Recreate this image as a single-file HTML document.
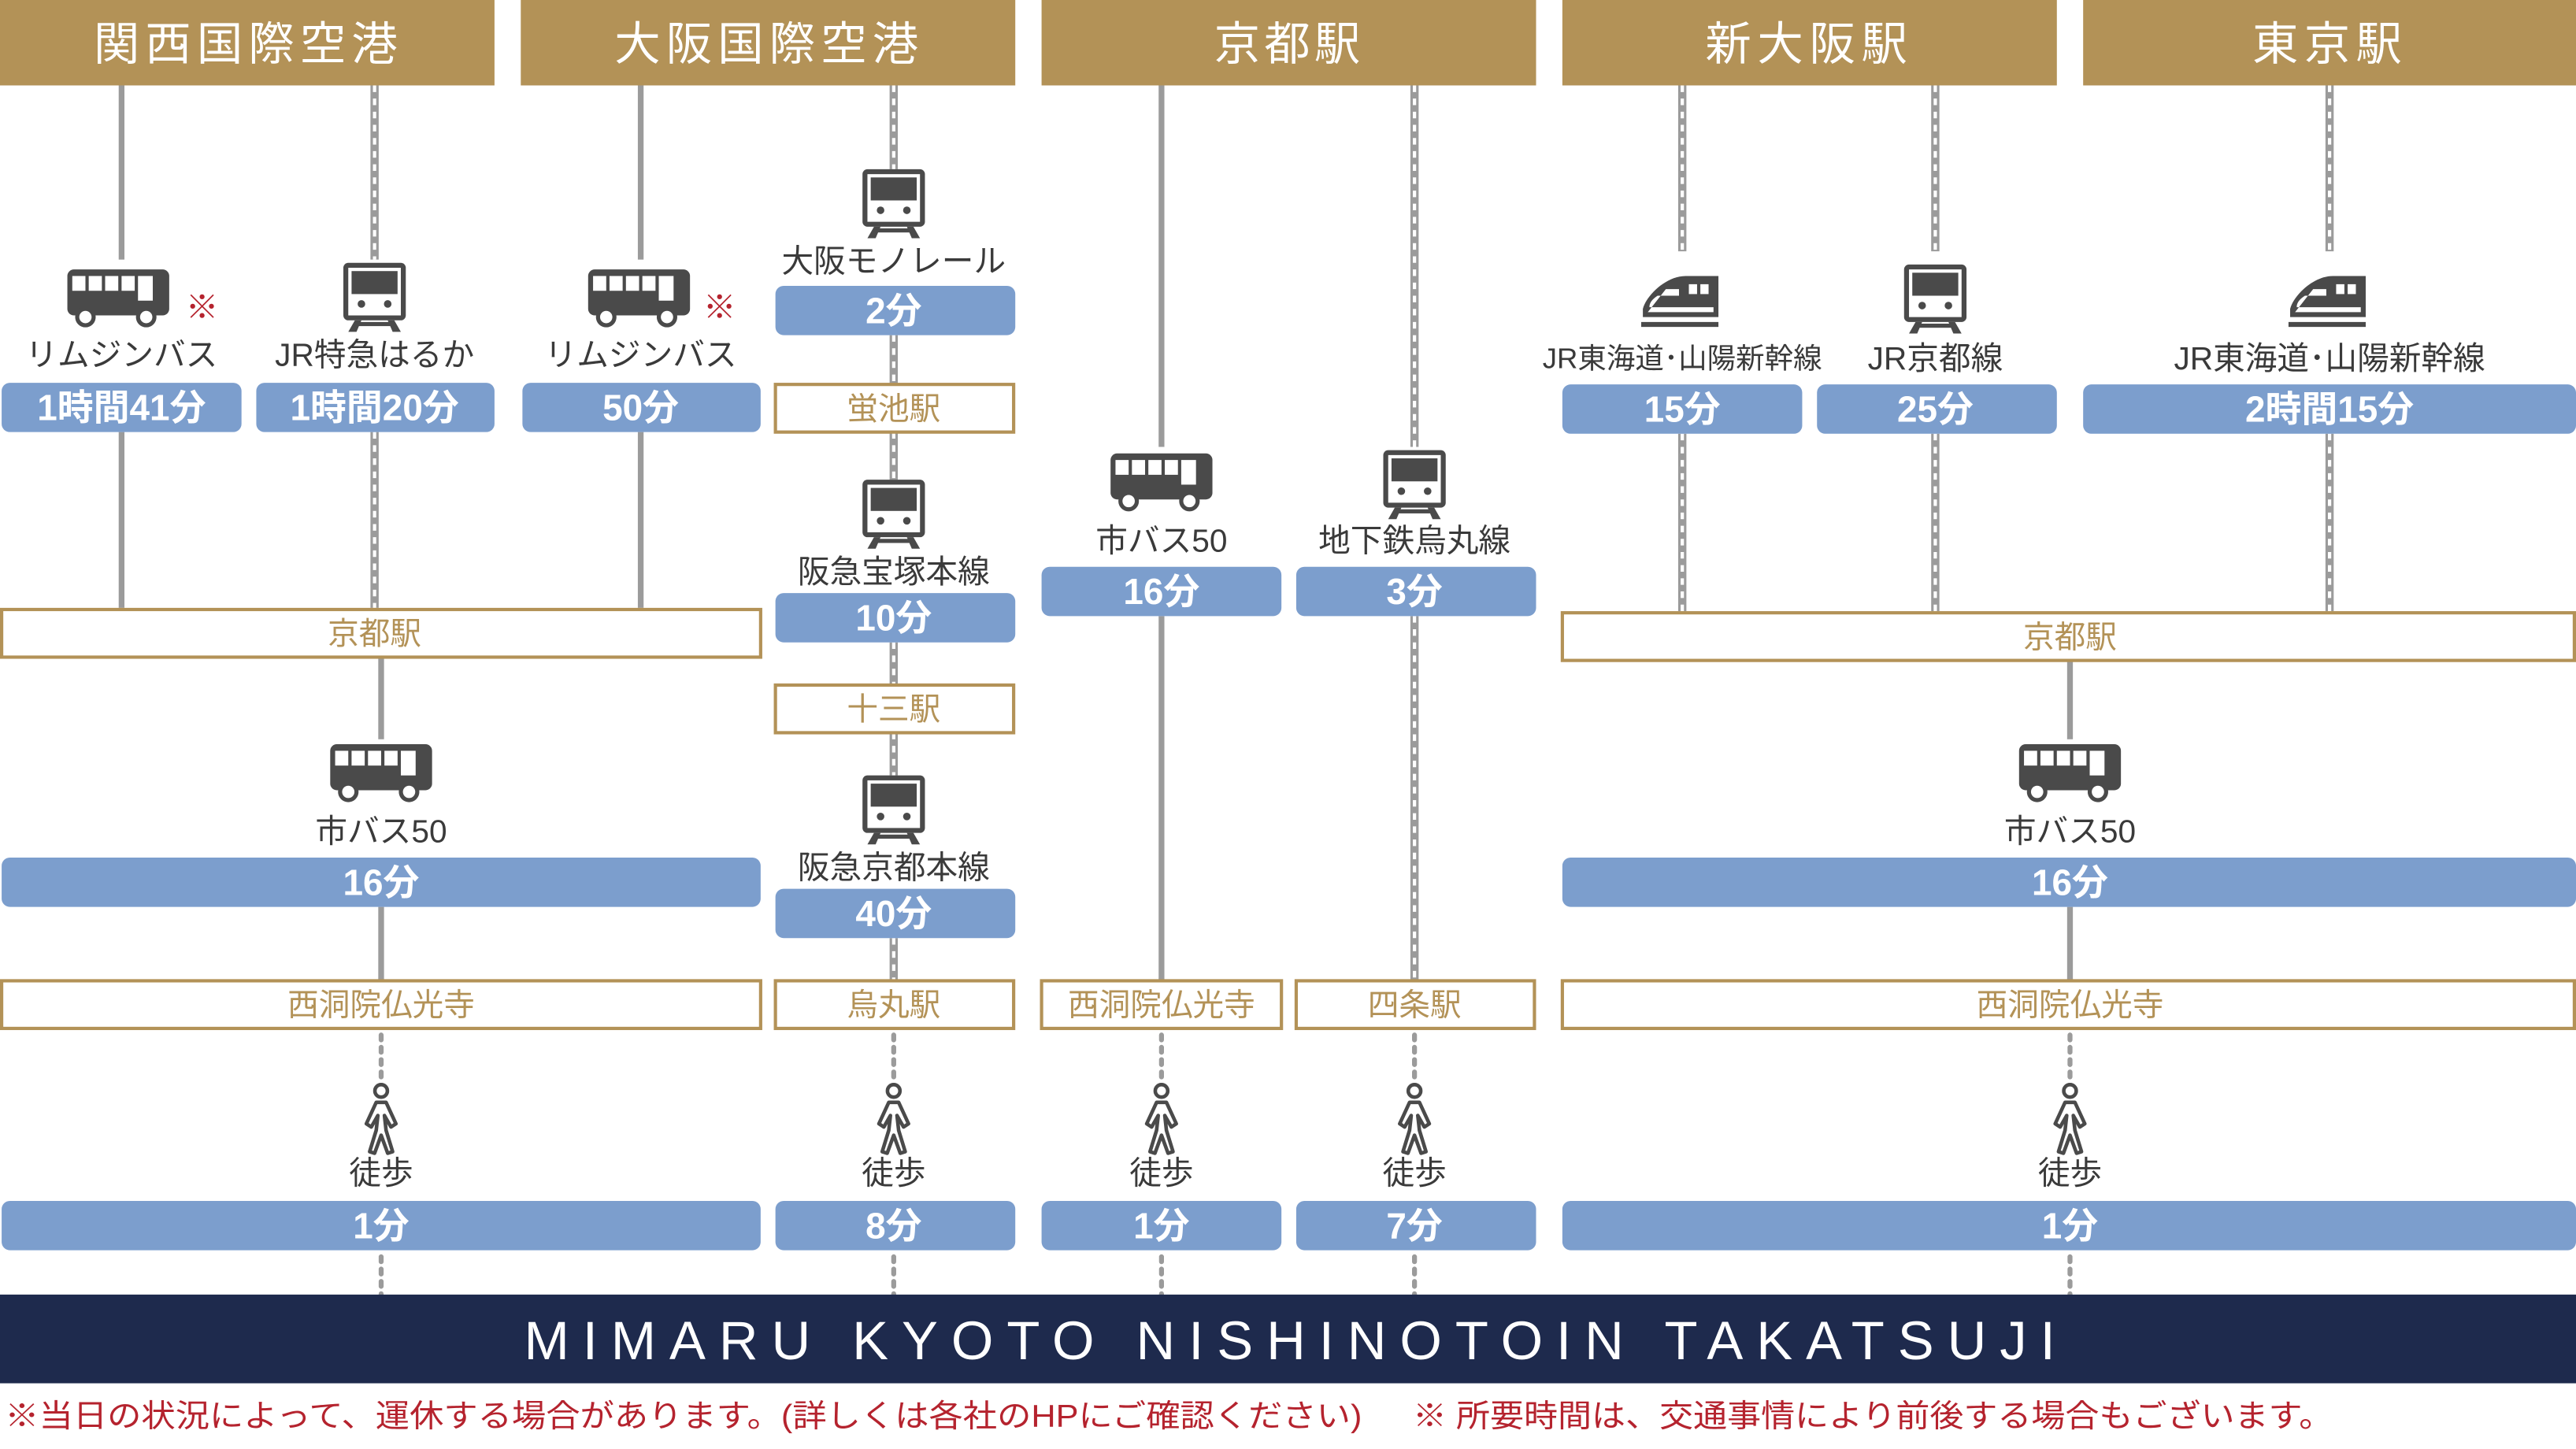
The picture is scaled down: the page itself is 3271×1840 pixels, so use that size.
<!DOCTYPE html>
<html><head><meta charset="utf-8"><style>
html,body{margin:0;padding:0;background:#fff;}
svg{display:block;}
text{font-family:"Liberation Sans","Noto Sans CJK JP",sans-serif;}
.h{fill:#fff;font-size:28px;text-anchor:middle;dominant-baseline:central;letter-spacing:3px;}
.l{fill:#3a3a3a;font-size:19.5px;text-anchor:middle;dominant-baseline:central;}
.ls{fill:#3a3a3a;font-size:17.5px;text-anchor:middle;dominant-baseline:central;}
.b{fill:#fff;font-size:22px;font-weight:bold;text-anchor:middle;dominant-baseline:central;}
.o{fill:#b39257;font-size:19px;text-anchor:middle;dominant-baseline:central;}
.r{fill:#b5232e;font-size:19px;dominant-baseline:central;}
.s{stroke:#9b9b9b;stroke-width:3.5;}
.d{stroke:#9b9b9b;stroke-width:3;stroke-dasharray:3 4.5;stroke-linecap:round;}
</style></head><body>
<svg width="3271" height="1840" viewBox="0 0 1568 882" preserveAspectRatio="none" xmlns="http://www.w3.org/2000/svg">
<defs>
<g id="bus">
<rect x="-31" y="-17" width="62" height="28" rx="4" fill="#4a4a4a"/>
<rect x="-28" y="-13" width="8" height="9" fill="#fff"/>
<rect x="-18" y="-13" width="8" height="9" fill="#fff"/>
<rect x="-8" y="-13" width="8" height="9" fill="#fff"/>
<rect x="2" y="-13" width="8" height="9" fill="#fff"/>
<rect x="12" y="-13" width="9" height="15" fill="#fff"/>
<circle cx="-20" cy="12" r="5" fill="#fff" stroke="#4a4a4a" stroke-width="2.5"/>
<circle cx="17" cy="12" r="5" fill="#fff" stroke="#4a4a4a" stroke-width="2.5"/>
</g>
<g id="train">
<rect x="-19" y="-21" width="38" height="35" rx="3" fill="#4a4a4a"/>
<rect x="-16" y="-18" width="32" height="29" fill="#fff"/>
<rect x="-14" y="-16" width="28" height="14" fill="#4a4a4a"/>
<circle cx="-8" cy="4" r="2.3" fill="#4a4a4a"/>
<circle cx="8" cy="4" r="2.3" fill="#4a4a4a"/>
<polygon points="-16,21 -12,14 -8,14 -11,21" fill="#4a4a4a"/>
<polygon points="16,21 12,14 8,14 11,21" fill="#4a4a4a"/>
<rect x="-12" y="15" width="24" height="2.5" fill="#4a4a4a"/>
</g>
<g id="walk" fill="none" stroke="#4a4a4a" stroke-width="2.2" stroke-linejoin="round" stroke-linecap="round">
<circle cx="0" cy="-19" r="3.8"/>
<path d="M-3,-12 L3,-12 L9,1 L6,3 L2,-4 L3,5 L7,18 L4,19 L0,8 L-4,19 L-7,18 L-3,5 L-2,-4 L-6,3 L-9,1 Z"/>
</g>
<g id="shin">
<path d="M-22,9 L24,9 L24,-16 L4,-16 C-8,-16 -20,-4 -22,4 Z" fill="#4a4a4a"/>
<path d="M-19,6 L21,6 L21,3 L-18,3 C-18,0 -16,-2 -13,-4 L0,-4 L0,-8 L-8,-8 Z" fill="#fff"/>
<rect x="6" y="-11" width="5" height="6" fill="#fff"/>
<rect x="13" y="-11" width="5" height="6" fill="#fff"/>
<rect x="-23" y="12" width="47" height="3" fill="#4a4a4a"/>
</g>
</defs>

<g fill="#b39257">
<rect x="0" y="0" width="301" height="52"/>
<rect x="317" y="0" width="301" height="52"/>
<rect x="634" y="0" width="301" height="52"/>
<rect x="951" y="0" width="301" height="52"/>
<rect x="1268" y="0" width="300" height="52"/>
</g>
<text class="h" x="151" y="27" textLength="188">関西国際空港</text>
<text class="h" x="468" y="27" textLength="188">大阪国際空港</text>
<text class="h" x="785" y="27" textLength="92">京都駅</text>
<text class="h" x="1101" y="27" textLength="126">新大阪駅</text>
<text class="h" x="1418" y="27" textLength="94">東京駅</text>

<g class="s">
<line x1="74" y1="52" x2="74" y2="158"/><line x1="74" y1="263" x2="74" y2="370"/>
<line x1="390" y1="52" x2="390" y2="158"/><line x1="390" y1="263" x2="390" y2="370"/>
<line x1="232" y1="400" x2="232" y2="450"/><line x1="232" y1="552" x2="232" y2="597"/>
<line x1="707" y1="52" x2="707" y2="272"/><line x1="707" y1="375" x2="707" y2="597"/>
<line x1="1260" y1="402" x2="1260" y2="450"/><line x1="1260" y1="552" x2="1260" y2="597"/>
</g>
<g>
<g stroke="#9b9b9b" stroke-width="5">
<line x1="228" y1="52" x2="228" y2="158"/><line x1="228" y1="263" x2="228" y2="370"/>
<line x1="544" y1="52" x2="544" y2="103"/><line x1="544" y1="204" x2="544" y2="234"/><line x1="544" y1="263" x2="544" y2="292"/><line x1="544" y1="391" x2="544" y2="417"/><line x1="544" y1="446" x2="544" y2="472"/><line x1="544" y1="571" x2="544" y2="597"/>
<line x1="861" y1="52" x2="861" y2="272"/><line x1="861" y1="375" x2="861" y2="597"/>
<line x1="1024" y1="52" x2="1024" y2="153"/><line x1="1024" y1="264" x2="1024" y2="372"/>
<line x1="1178" y1="52" x2="1178" y2="153"/><line x1="1178" y1="264" x2="1178" y2="372"/>
<line x1="1418" y1="52" x2="1418" y2="153"/><line x1="1418" y1="264" x2="1418" y2="372"/>
</g>
<g stroke="#fff" stroke-width="2" stroke-dasharray="4 4">
<line x1="228" y1="52" x2="228" y2="158"/><line x1="228" y1="263" x2="228" y2="370"/>
<line x1="544" y1="52" x2="544" y2="103"/><line x1="544" y1="204" x2="544" y2="234"/><line x1="544" y1="263" x2="544" y2="292"/><line x1="544" y1="391" x2="544" y2="417"/><line x1="544" y1="446" x2="544" y2="472"/><line x1="544" y1="571" x2="544" y2="597"/>
<line x1="861" y1="52" x2="861" y2="272"/><line x1="861" y1="375" x2="861" y2="597"/>
<line x1="1024" y1="52" x2="1024" y2="153"/><line x1="1024" y1="264" x2="1024" y2="372"/>
<line x1="1178" y1="52" x2="1178" y2="153"/><line x1="1178" y1="264" x2="1178" y2="372"/>
<line x1="1418" y1="52" x2="1418" y2="153"/><line x1="1418" y1="264" x2="1418" y2="372"/>
</g>
</g>
<g class="d">
<line x1="232" y1="630" x2="232" y2="658"/><line x1="232" y1="765" x2="232" y2="788"/>
<line x1="544" y1="630" x2="544" y2="658"/><line x1="544" y1="765" x2="544" y2="788"/>
<line x1="707" y1="630" x2="707" y2="658"/><line x1="707" y1="765" x2="707" y2="788"/>
<line x1="861" y1="630" x2="861" y2="658"/><line x1="861" y1="765" x2="861" y2="788"/>
<line x1="1260" y1="630" x2="1260" y2="658"/><line x1="1260" y1="765" x2="1260" y2="788"/>
</g>

<use href="#bus" x="72" y="181"/>
<use href="#train" x="228" y="181"/>
<use href="#bus" x="389" y="181"/>
<use href="#train" x="544" y="124"/>
<use href="#train" x="544" y="313"/>
<use href="#train" x="544" y="493"/>
<use href="#bus" x="232" y="470"/>
<use href="#bus" x="707" y="293"/>
<use href="#train" x="861" y="295"/>
<use href="#shin" x="1022" y="184"/>
<use href="#train" x="1178" y="182"/>
<use href="#shin" x="1416" y="184"/>
<use href="#bus" x="1260" y="470"/>
<use href="#walk" x="232" y="683"/>
<use href="#walk" x="544" y="683"/>
<use href="#walk" x="707" y="683"/>
<use href="#walk" x="861" y="683"/>
<use href="#walk" x="1260" y="683"/>
<text x="123" y="187" fill="#b5232e" font-size="20" text-anchor="middle" dominant-baseline="central">※</text>
<text x="438" y="187" fill="#b5232e" font-size="20" text-anchor="middle" dominant-baseline="central">※</text>

<text class="l" x="74" y="216">リムジンバス</text>
<text class="l" x="228" y="216">JR特急はるか</text>
<text class="l" x="390" y="216">リムジンバス</text>
<text class="l" x="544" y="159">大阪モノレール</text>
<text class="l" x="544" y="348">阪急宝塚本線</text>
<text class="l" x="544" y="528">阪急京都本線</text>
<text class="l" x="232" y="506">市バス50</text>
<text class="l" x="707" y="329">市バス50</text>
<text class="l" x="861" y="329">地下鉄烏丸線</text>
<text class="ls" x="1024" y="218">JR東海道･山陽新幹線</text>
<text class="l" x="1178" y="218">JR京都線</text>
<text class="l" x="1418" y="218">JR東海道･山陽新幹線</text>
<text class="l" x="1260" y="506">市バス50</text>
<text class="l" x="232" y="714">徒歩</text>
<text class="l" x="544" y="714">徒歩</text>
<text class="l" x="707" y="714">徒歩</text>
<text class="l" x="861" y="714">徒歩</text>
<text class="l" x="1260" y="714">徒歩</text>

<g fill="#7c9ecd">
<rect x="1" y="233" width="146" height="30" rx="5"/>
<rect x="156" y="233" width="145" height="30" rx="5"/>
<rect x="318" y="233" width="145" height="30" rx="5"/>
<rect x="472" y="174" width="146" height="30" rx="5"/>
<rect x="472" y="361" width="146" height="30" rx="5"/>
<rect x="472" y="541" width="146" height="30" rx="5"/>
<rect x="1" y="522" width="462" height="30" rx="5"/>
<rect x="634" y="345" width="146" height="30" rx="5"/>
<rect x="789" y="345" width="146" height="30" rx="5"/>
<rect x="951" y="234" width="146" height="30" rx="5"/>
<rect x="1106" y="234" width="146" height="30" rx="5"/>
<rect x="1268" y="234" width="300" height="30" rx="5"/>
<rect x="951" y="522" width="617" height="30" rx="5"/>
<rect x="1" y="731" width="462" height="30" rx="5"/>
<rect x="472" y="731" width="146" height="30" rx="5"/>
<rect x="634" y="731" width="146" height="30" rx="5"/>
<rect x="789" y="731" width="146" height="30" rx="5"/>
<rect x="951" y="731" width="617" height="30" rx="5"/>
</g>
<text class="b" x="74" y="248">1時間41分</text>
<text class="b" x="228" y="248">1時間20分</text>
<text class="b" x="390" y="248">50分</text>
<text class="b" x="544" y="189">2分</text>
<text class="b" x="544" y="376">10分</text>
<text class="b" x="544" y="556">40分</text>
<text class="b" x="232" y="537">16分</text>
<text class="b" x="707" y="360">16分</text>
<text class="b" x="861" y="360">3分</text>
<text class="b" x="1024" y="249">15分</text>
<text class="b" x="1178" y="249">25分</text>
<text class="b" x="1418" y="249">2時間15分</text>
<text class="b" x="1260" y="537">16分</text>
<text class="b" x="232" y="746">1分</text>
<text class="b" x="544" y="746">8分</text>
<text class="b" x="707" y="746">1分</text>
<text class="b" x="861" y="746">7分</text>
<text class="b" x="1260" y="746">1分</text>

<g fill="#fff" stroke="#b39257" stroke-width="2">
<rect x="1" y="371" width="462" height="29"/>
<rect x="472" y="234" width="145" height="29"/>
<rect x="472" y="417" width="145" height="29"/>
<rect x="1" y="597" width="462" height="29"/>
<rect x="472" y="597" width="145" height="29"/>
<rect x="634" y="597" width="146" height="29"/>
<rect x="789" y="597" width="145" height="29"/>
<rect x="951" y="373" width="616" height="29"/>
<rect x="951" y="597" width="616" height="29"/>
</g>
<text class="o" x="228" y="386">京都駅</text>
<text class="o" x="544" y="249">蛍池駅</text>
<text class="o" x="544" y="432">十三駅</text>
<text class="o" x="232" y="612">西洞院仏光寺</text>
<text class="o" x="544" y="612">烏丸駅</text>
<text class="o" x="707" y="612">西洞院仏光寺</text>
<text class="o" x="861" y="612">四条駅</text>
<text class="o" x="1260" y="388">京都駅</text>
<text class="o" x="1260" y="612">西洞院仏光寺</text>

<rect x="0" y="788" width="1568" height="54" fill="#1e2a4d"/>
<text x="785" y="816" fill="#fff" font-size="33" text-anchor="middle" dominant-baseline="central" textLength="932" lengthAdjust="spacing" style="font-family:'Liberation Sans',sans-serif;">MIMARU KYOTO NISHINOTOIN TAKATSUJI</text>

<text class="r" x="3" y="862" textLength="826" lengthAdjust="spacingAndGlyphs">※当日の状況によって、運休する場合があります。(詳しくは各社のHPにご確認ください)</text>
<text class="r" x="860" y="862" textLength="560" lengthAdjust="spacingAndGlyphs">※ 所要時間は、交通事情により前後する場合もございます。</text>
</svg>
</body></html>
